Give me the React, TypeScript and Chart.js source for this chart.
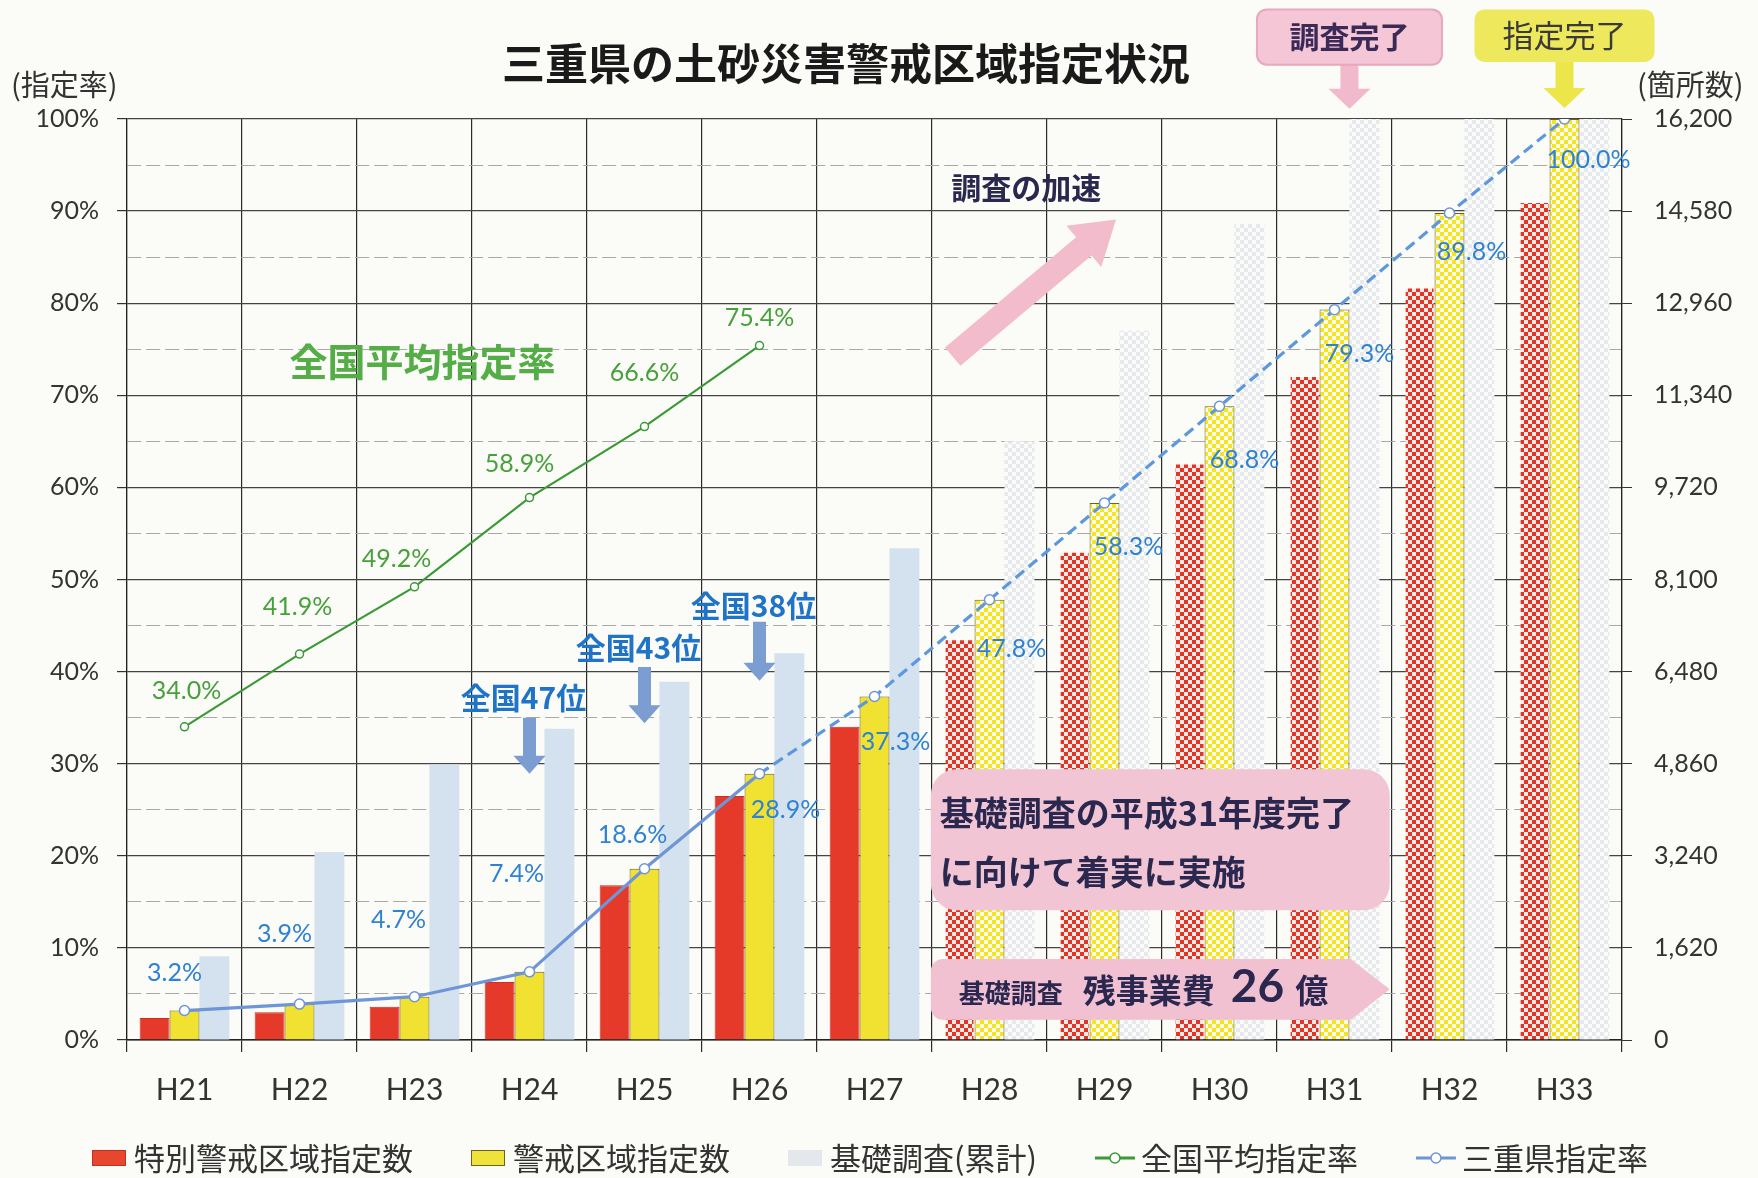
import React, { useEffect, useRef } from 'react';
import { Chart, registerables } from 'chart.js';

Chart.register(...registerables);

// ---------------- data ----------------
const categories = ['H21', 'H22', 'H23', 'H24', 'H25', 'H26', 'H27', 'H28', 'H29', 'H30', 'H31', 'H32', 'H33'];
const specialCounts = [389, 486, 583, 1021, 2722, 4293, 5508, 7047, 8586, 10141, 11680, 13235, 14742];
const warningCounts = [518, 632, 761, 1199, 3013, 4682, 6043, 7744, 9445, 11146, 12847, 14548, 16200];
const surveyCounts = [1474, 3305, 4844, 5476, 6302, 6804, 8651, 10530, 12474, 14353, 16200, 16200, 16200];
const nationalRate: (number | null)[] = [34.0, 41.9, 49.2, 58.9, 66.6, 75.4, null, null, null, null, null, null, null];
const mieRate = [3.2, 3.9, 4.7, 7.4, 18.6, 28.9, 37.3, 47.8, 58.3, 68.8, 79.3, 89.8, 100.0];
const seriesLabels = ['特別警戒区域指定数', '警戒区域指定数', '基礎調査(累計)', '全国平均指定率', '三重県指定率'];
const rateMin = 0;
const rateMax = 100;
const rateStep = 5;
const countMin = 0;
const countMax = 16200;
const countStep = 1620;
const firstProjected = 'H28';
const firstDashedFrom = 'H26';
const rankCategories = ['H24', 'H25', 'H26'];
const rankLabels = ['全国47位', '全国43位', '全国38位'];
const titleText = '三重県の土砂災害警戒区域指定状況';
const leftAxisTitle = '(指定率)';
const rightAxisTitle = '(箇所数)';

// ---------------- styles ----------------
const FONT_JP = '"Noto Sans CJK JP", "Noto Sans", sans-serif';
const FONT_NUM = 'Lato, "Noto Sans", sans-serif';
const TEXT_DARK = '#333333';
const NAVY = '#2b2850';
const RED = '#e5392a';
const YELLOW = '#f1e232';
const LIGHTBLUE = '#d3e2ee';
const GREEN = '#3c9a36';
const BLUE = '#6e96d6';
const BLUE_DASH = '#5d98dd';
const BLUE_TEXT = '#2f82d3';
const GREEN_TEXT = '#47a03c';
const PINK = '#f2c5d5';

// label offsets (px) relative to the point
const blueLabelOffsets = [
  [-10, -38], [-15, -70], [-16, -77], [-13, -98], [-12, -34], [26, 36], [21, 45],
  [22, 49], [24, 44], [25, 54], [25, 44], [22, 39], [24, 41],
];
const greenLabelOffsets = [[2, -36], [-2, -47], [-18, -28], [-10, -34], [0, -54], [0, -28]];
// rank annotation levels on the % axis: text, arrow top, arrow tip
const rankLevels = [
  [37.2, 35.0, 28.9],
  [42.6, 40.5, 34.4],
  [47.2, 45.4, 39.0],
];

function makeChecker(c1: string, c2: string, cell: number): CanvasPattern | string {
  const cv = document.createElement('canvas');
  cv.width = cell * 2;
  cv.height = cell * 2;
  const g = cv.getContext('2d');
  if (!g) return c1;
  g.fillStyle = c2;
  g.fillRect(0, 0, cell * 2, cell * 2);
  g.fillStyle = c1;
  g.fillRect(0, 0, cell, cell);
  g.fillRect(cell, cell, cell, cell);
  return g.createPattern(cv, 'repeat') || c1;
}

function roundRect(ctx: CanvasRenderingContext2D, x: number, y: number, w: number, h: number, r: number) {
  ctx.beginPath();
  ctx.moveTo(x + r, y);
  ctx.arcTo(x + w, y, x + w, y + h, r);
  ctx.arcTo(x + w, y + h, x, y + h, r);
  ctx.arcTo(x, y + h, x, y, r);
  ctx.arcTo(x, y, x + w, y, r);
  ctx.closePath();
}

function arrow(ctx: CanvasRenderingContext2D, x0: number, y0: number, x1: number, y1: number,
  shaftW: number, headW: number, headL: number, color: string) {
  const dx = x1 - x0, dy = y1 - y0;
  const len = Math.hypot(dx, dy);
  const ux = dx / len, uy = dy / len;
  const nx = -uy, ny = ux;
  const bx = x1 - ux * headL, by = y1 - uy * headL;
  ctx.beginPath();
  ctx.moveTo(x0 + nx * shaftW / 2, y0 + ny * shaftW / 2);
  ctx.lineTo(bx + nx * shaftW / 2, by + ny * shaftW / 2);
  ctx.lineTo(bx + nx * headW / 2, by + ny * headW / 2);
  ctx.lineTo(x1, y1);
  ctx.lineTo(bx - nx * headW / 2, by - ny * headW / 2);
  ctx.lineTo(bx - nx * shaftW / 2, by - ny * shaftW / 2);
  ctx.lineTo(x0 - nx * shaftW / 2, y0 - ny * shaftW / 2);
  ctx.closePath();
  ctx.fillStyle = color;
  ctx.fill();
}

const overlayPlugin = {
  id: 'overlay',
  beforeDraw(chart: any) {
    const { ctx, width, height } = chart;
    ctx.save();
    ctx.fillStyle = '#fbfbf7';
    ctx.fillRect(0, 0, width, height);
    ctx.restore();
  },
  afterDatasetsDraw(chart: any) {
    const ctx: CanvasRenderingContext2D = chart.ctx;
    const xs = chart.scales.x;
    const ys = chart.scales.y;
    const px = (v: number) => xs.getPixelForValue(v);
    const py = (v: number) => ys.getPixelForValue(v);
    ctx.save();
    ctx.textBaseline = 'middle';

    // pink rounded box
    {
      const x0 = px(6.49), x1 = px(10.48), y0 = py(29.4), y1 = py(14.1);
      roundRect(ctx, x0, y0, x1 - x0, y1 - y0, 26);
      ctx.fillStyle = PINK;
      ctx.fill();
      ctx.fillStyle = NAVY;
      ctx.textAlign = 'left';
      ctx.font = `bold 34px ${FONT_JP}`;
      ctx.fillText('基礎調査の平成31年度完了', x0 + 9, y0 + 44);
      ctx.fillText('に向けて着実に実施', x0 + 9, y0 + 103);
    }
    // pink arrow box
    {
      const x0 = px(6.49), xb = px(10.14), xt = px(10.48), y0 = py(8.8), y1 = py(2.2);
      const r = 12;
      ctx.beginPath();
      ctx.moveTo(x0 + r, y0);
      ctx.lineTo(xb, y0);
      ctx.lineTo(xt, (y0 + y1) / 2);
      ctx.lineTo(xb, y1);
      ctx.lineTo(x0 + r, y1);
      ctx.arcTo(x0, y1, x0, y1 - r, r);
      ctx.lineTo(x0, y0 + r);
      ctx.arcTo(x0, y0, x0 + r, y0, r);
      ctx.closePath();
      ctx.fillStyle = '#f1c0d1';
      ctx.fill();
      const ym = (y0 + y1) / 2 + 1;
      ctx.fillStyle = NAVY;
      ctx.textAlign = 'left';
      let tx = x0 + 28;
      ctx.font = `bold 26px ${FONT_JP}`;
      ctx.fillText('基礎調査', tx, ym + 3);
      tx += ctx.measureText('基礎調査').width + 20;
      ctx.font = `bold 33px ${FONT_JP}`;
      ctx.fillText('残事業費', tx, ym);
      tx += ctx.measureText('残事業費').width + 16;
      ctx.font = `bold 46px ${FONT_NUM}`;
      ctx.fillText('26', tx, ym - 3);
      tx += ctx.measureText('26').width + 11;
      ctx.font = `bold 33px ${FONT_JP}`;
      ctx.fillText('億', tx, ym);
    }

    // diagonal pink arrow + caption
    arrow(ctx, px(6.68), py(74.2), px(8.1), py(89.1), 24, 54, 42, '#f3bccd');
    ctx.fillStyle = NAVY;
    ctx.textAlign = 'center';
    ctx.font = `bold 30px ${FONT_JP}`;
    ctx.fillText('調査の加速', px(7.32), py(92.5));

    // national average caption
    ctx.fillStyle = '#55ad48';
    ctx.font = `bold 38px ${FONT_JP}`;
    ctx.fillText('全国平均指定率', px(2.07), py(73.7));

    // rank annotations
    rankCategories.forEach((c, k) => {
      const i = categories.indexOf(c);
      const [tl, at, tip] = rankLevels[k];
      arrow(ctx, px(i), py(at), px(i), py(tip), 13, 32, 18, '#7b9dd2');
      ctx.fillStyle = '#1f74c8';
      ctx.font = `bold 30px ${FONT_JP}`;
      ctx.textAlign = 'center';
      ctx.fillText(rankLabels[k], px(i) - 6, py(tl));
    });

    // data labels
    const gMeta = chart.getDatasetMeta(0);
    ctx.font = `25px ${FONT_NUM}`;
    ctx.fillStyle = GREEN_TEXT;
    ctx.textAlign = 'center';
    nationalRate.forEach((v, i) => {
      if (v == null) return;
      const p = gMeta.data[i];
      const o = greenLabelOffsets[i];
      ctx.fillText(v.toFixed(1) + '%', p.x + o[0], p.y + o[1]);
    });
    const bMeta = chart.getDatasetMeta(1);
    ctx.fillStyle = BLUE_TEXT;
    mieRate.forEach((v, i) => {
      const p = bMeta.data[i];
      const o = blueLabelOffsets[i];
      ctx.fillText(v.toFixed(1) + '%', p.x + o[0], p.y + o[1]);
    });

    // top callouts
    {
      const cx = px(10.13);
      arrow(ctx, cx, py(106.2), cx, py(101.1), 18, 42, 20, '#f1b9cc');
      const w = 185, y0 = py(111.9), y1 = py(105.9);
      roundRect(ctx, cx - w / 2, y0, w, y1 - y0, 10);
      ctx.fillStyle = '#f4c6d6';
      ctx.fill();
      ctx.lineWidth = 2;
      ctx.strokeStyle = '#e8a7bf';
      ctx.stroke();
      ctx.fillStyle = '#3b2a57';
      ctx.font = `bold 30px ${FONT_JP}`;
      ctx.textAlign = 'center';
      ctx.fillText('調査完了', cx, (y0 + y1) / 2);
    }
    {
      const cx = px(12.0);
      arrow(ctx, cx, py(106.4), cx, py(101.2), 18, 42, 20, '#ece64a');
      const w = 180, y0 = py(111.9), y1 = py(106.2);
      roundRect(ctx, cx - w / 2, y0, w, y1 - y0, 10);
      ctx.fillStyle = '#eee95c';
      ctx.fill();
      ctx.fillStyle = '#3a3a3a';
      ctx.font = `31px ${FONT_JP}`;
      ctx.textAlign = 'center';
      ctx.fillText('指定完了', cx, (y0 + y1) / 2);
    }
    ctx.restore();
  },
  afterDraw(chart: any) {
    const ctx: CanvasRenderingContext2D = chart.ctx;
    const area = chart.chartArea;
    ctx.save();
    ctx.textBaseline = 'middle';
    // title
    ctx.fillStyle = '#1a1a1a';
    ctx.font = `bold 43px ${FONT_JP}`;
    ctx.textAlign = 'center';
    ctx.fillText(titleText, 846, 64);
    // axis titles
    ctx.fillStyle = TEXT_DARK;
    ctx.font = `29px ${FONT_JP}`;
    ctx.textAlign = 'left';
    ctx.fillText(leftAxisTitle, 11, area.top - 34);
    ctx.fillText(rightAxisTitle, 1637, area.top - 34);

    // legend
    const ly = 1158;
    let lx = 92;
    ctx.font = `31px ${FONT_JP}`;
    const items = [
      { kind: 'box', fill: '#e8462f', stroke: '#c23020' },
      { kind: 'box', fill: '#efe23a', stroke: '#6a6420' },
      { kind: 'box', fill: '#e4e8ec', stroke: '#e4e8ec' },
      { kind: 'line', color: GREEN },
      { kind: 'line', color: BLUE },
    ];
    const order = [2, 3, 4, 0, 1];
    items.forEach((it: any, k) => {
      const label = chart.data.datasets[order[k]].label as string;
      if (it.kind === 'box') {
        ctx.fillStyle = it.fill;
        ctx.fillRect(lx, ly - 8, 34, 16);
        ctx.strokeStyle = it.stroke;
        ctx.lineWidth = 1;
        ctx.strokeRect(lx + 0.5, ly - 7.5, 33, 15);
        lx += 34 + 8;
      } else {
        ctx.strokeStyle = it.color;
        ctx.lineWidth = 3;
        ctx.beginPath();
        ctx.moveTo(lx, ly);
        ctx.lineTo(lx + 40, ly);
        ctx.stroke();
        ctx.beginPath();
        ctx.arc(lx + 20, ly, 5, 0, Math.PI * 2);
        ctx.fillStyle = '#ffffff';
        ctx.fill();
        ctx.lineWidth = 1.5;
        ctx.stroke();
        lx += 40 + 6;
      }
      ctx.fillStyle = TEXT_DARK;
      ctx.fillText(label, lx, ly);
      lx += ctx.measureText(label).width + 58;
    });
    ctx.restore();
  },
};

export default function App() {
  const canvasRef = useRef<HTMLCanvasElement | null>(null);

  useEffect(() => {
    const canvas = canvasRef.current;
    if (!canvas) return;
    const projIdx = categories.indexOf(firstProjected);
    const dashIdx = categories.indexOf(firstDashedFrom);
    const redPat = makeChecker('#e2352a', '#fbe9e2', 4);
    const yellowPat = makeChecker('#f2e526', '#fffbe6', 4);
    const grayPat = makeChecker('#e6e9ed', '#fbfbf8', 4);
    const redFill = categories.map((_, i) => (i >= projIdx ? redPat : RED));
    const yellowFill = categories.map((_, i) => (i >= projIdx ? yellowPat : YELLOW));
    const grayFill = categories.map((_, i) => (i >= projIdx ? grayPat : LIGHTBLUE));
    const redBorder = categories.map((_, i) => (i >= projIdx ? 'rgba(0,0,0,0)' : '#c8301f'));

    const isMajor = (c: any) => c.tick && Math.round(c.tick.value) % 10 === 0;

    const chart = new Chart(canvas, {
      type: 'bar',
      data: {
        labels: categories,
        datasets: [
          {
            type: 'line', label: seriesLabels[3], data: nationalRate, yAxisID: 'y',
            borderColor: GREEN, borderWidth: 2.2, pointRadius: 4, pointBackgroundColor: '#ffffff',
            pointBorderColor: GREEN, pointBorderWidth: 1.5, spanGaps: false, tension: 0,
          } as any,
          {
            type: 'line', label: seriesLabels[4], data: mieRate, yAxisID: 'y',
            borderColor: BLUE, borderWidth: 3.2, pointRadius: 5, pointBackgroundColor: '#ffffff',
            pointBorderColor: BLUE, pointBorderWidth: 1.5, tension: 0,
            segment: {
              borderDash: (c: any) => (c.p0DataIndex >= dashIdx ? [11, 6] : undefined),
              borderColor: (c: any) => (c.p0DataIndex >= dashIdx ? BLUE_DASH : undefined),
            },
          } as any,
          {
            type: 'bar', label: seriesLabels[0], data: specialCounts, yAxisID: 'y1',
            backgroundColor: redFill, borderColor: redBorder, borderWidth: 1,
            categoryPercentage: 0.78, barPercentage: 1.0,
          } as any,
          {
            type: 'bar', label: seriesLabels[1], data: warningCounts, yAxisID: 'y1',
            backgroundColor: yellowFill, borderColor: '#6a6420', borderWidth: 1,
            categoryPercentage: 0.78, barPercentage: 1.0,
          } as any,
          {
            type: 'bar', label: seriesLabels[2], data: surveyCounts, yAxisID: 'y1',
            backgroundColor: grayFill, borderWidth: 0,
            categoryPercentage: 0.78, barPercentage: 1.0,
          } as any,
        ],
      },
      options: {
        responsive: false,
        animation: false,
        events: [],
        layout: { padding: { top: 119, bottom: 68, left: 0, right: 0 } },
        plugins: {
          legend: { display: false },
          title: { display: false },
          tooltip: { enabled: false },
        },
        scales: {
          x: {
            grid: { color: '#2b2b2b', lineWidth: 1.2, tickLength: 12, tickColor: '#2b2b2b', offset: true },
            border: { color: '#222222', width: 1.5 },
            ticks: { font: { family: FONT_NUM, size: 30 }, color: TEXT_DARK, padding: 20, maxRotation: 0 },
            afterFit: (s: any) => { s.height = 70; },
          },
          y: {
            position: 'left',
            min: rateMin,
            max: rateMax,
            ticks: {
              stepSize: rateStep,
              autoSkip: false,
              callback: (v: any) => (Math.round(Number(v)) % 10 === 0 ? `${v}%` : ''),
              font: { family: FONT_NUM, size: 25 },
              color: TEXT_DARK,
              padding: 18,
            },
            grid: {
              color: (c: any) => (isMajor(c) ? '#454545' : '#a8a8a8'),
              lineWidth: (c: any) => (isMajor(c) ? 1.2 : 1),
              tickLength: 10,
              tickColor: (c: any) => (isMajor(c) ? '#333333' : 'rgba(0,0,0,0)'),
            },
            border: {
              color: '#222222', width: 1.2,
              dash: (c: any) => (c.tick && !isMajor(c) ? [14, 5] : []),
            },
            afterFit: (s: any) => { s.width = 127; },
          },
          y1: {
            position: 'right',
            min: countMin,
            max: countMax,
            ticks: {
              stepSize: countStep,
              autoSkip: false,
              callback: (v: any) => Number(v).toLocaleString('en-US'),
              font: { family: FONT_NUM, size: 25 },
              color: TEXT_DARK,
              padding: 22,
            },
            grid: { drawOnChartArea: false, tickLength: 10, color: '#333333' },
            border: { color: '#222222', width: 1.2 },
            afterFit: (s: any) => { s.width = 136; },
          },
        },
      } as any,
      plugins: [overlayPlugin as any],
    });
    return () => chart.destroy();
  }, []);

  return (
    <div style={{ position: 'fixed', left: 0, top: 0, width: 1758, height: 1178 }}>
      <canvas ref={canvasRef} width={1758} height={1178} style={{ display: 'block', width: 1758, height: 1178 }} />
    </div>
  );
}
